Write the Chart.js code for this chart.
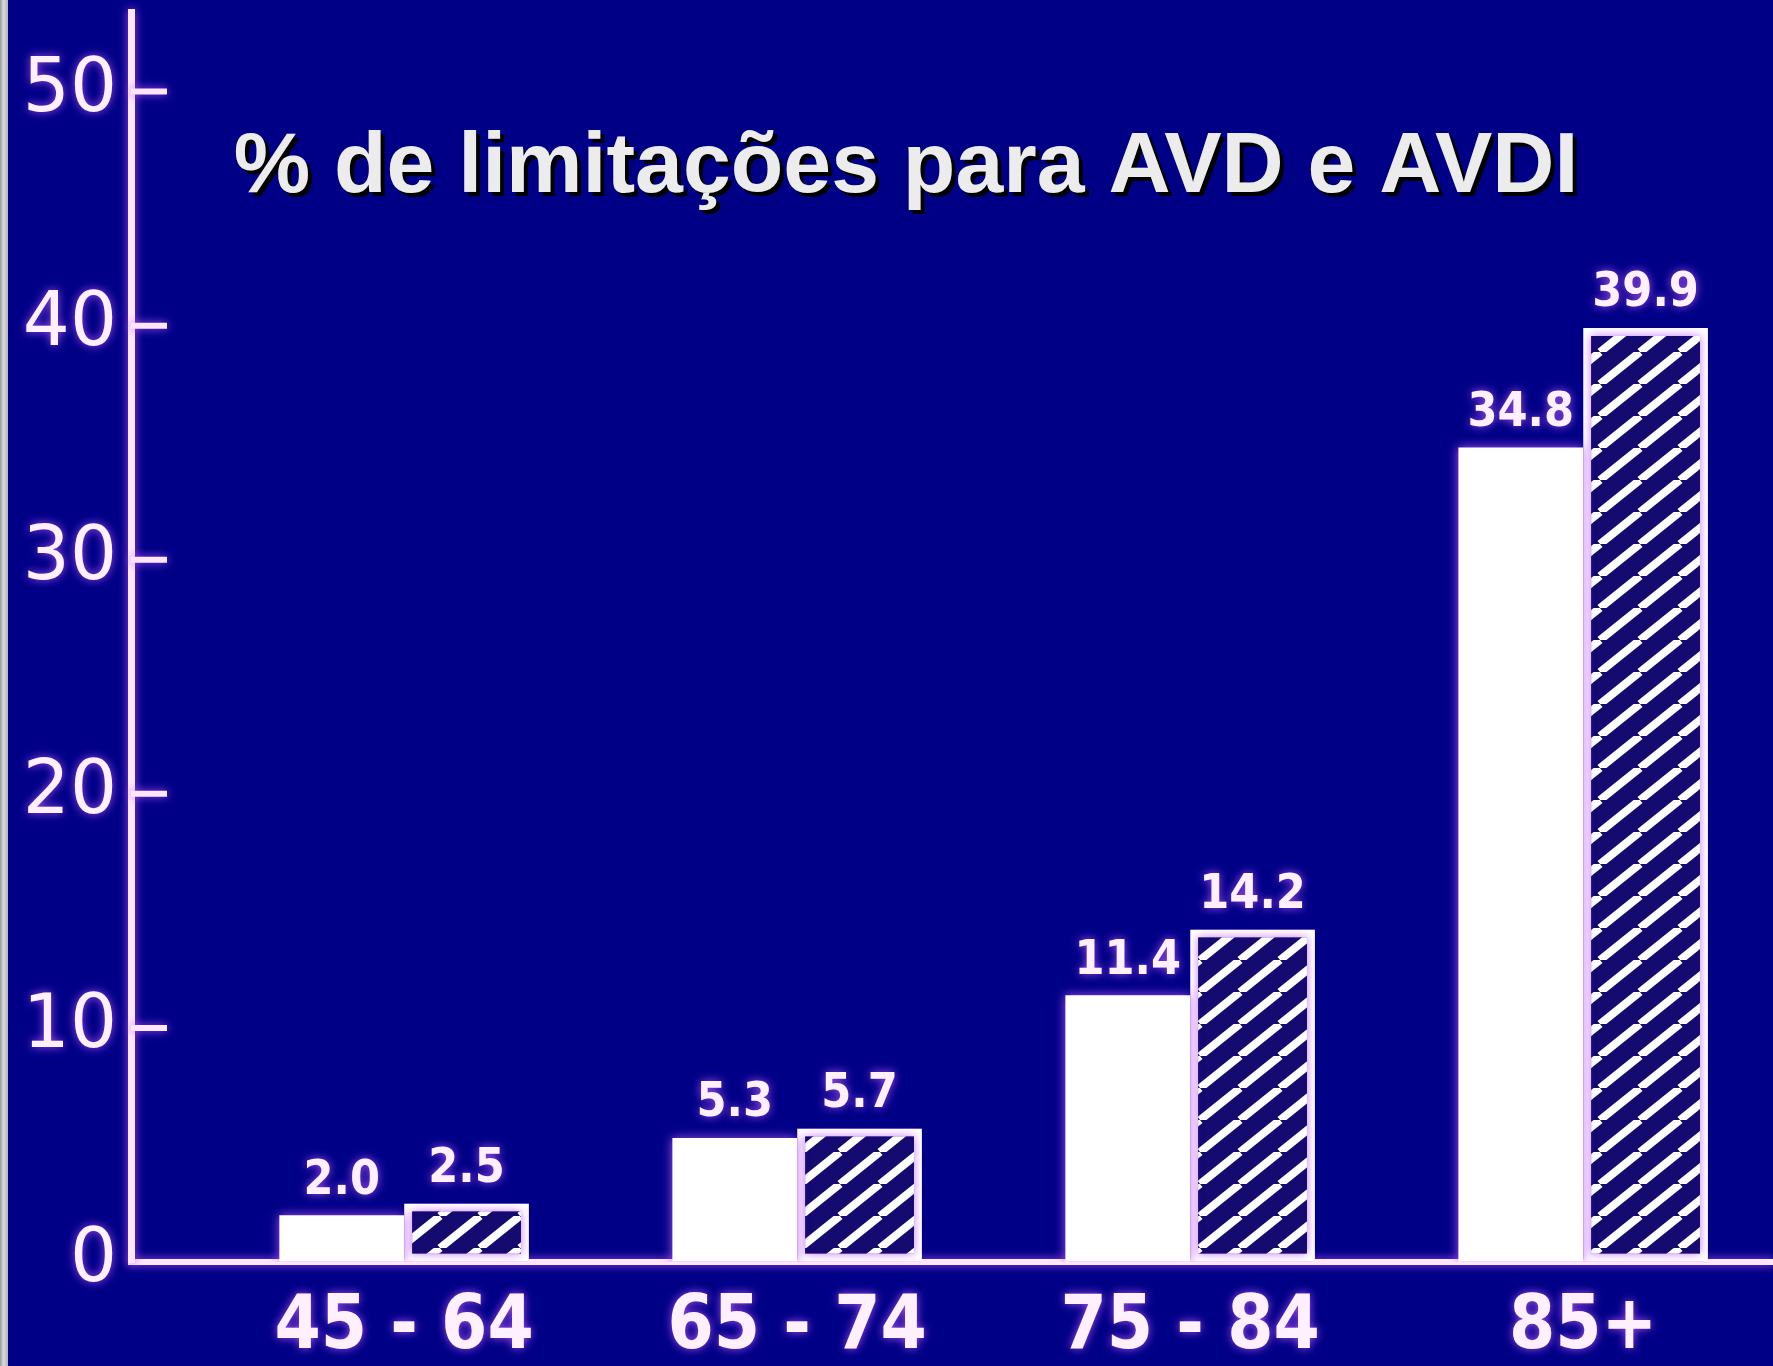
<!DOCTYPE html>
<html>
<head>
<meta charset="utf-8">
<title>Limitações AVD / AVDI</title>
<script src="https://cdn.jsdelivr.net/npm/chart.js@4.4.1/dist/chart.umd.min.js"></script>
<style>
  html, body { margin: 0; padding: 0; background: #000086; overflow: hidden; }
  #wrap { position: relative; width: 1773px; height: 1366px; }
  #edge {
    position: absolute; left: 0; top: 0; width: 8px; height: 100%;
    background: linear-gradient(to right, #9a9a9a, #dcdcdc 45%, #b4b4b4);
  }
</style>
</head>
<body>
<div id="wrap">
  <canvas id="avdChart" width="1773" height="1366"></canvas>
  <div id="edge"></div>
</div>
<script>
// faixas etárias e % de limitações (AVD = barra branca, AVDI = barra hachurada)
const ageGroups = ['45 - 64', '65 - 74', '75 - 84', '85+'];
const avdValues = [2.0, 5.3, 11.4, 34.8];
const avdiValues = [2.5, 5.7, 14.2, 39.9];
const yTicks = [0, 10, 20, 30, 40, 50];
const titleText = '% de limitações para AVD e AVDI';

const ink = '#fff0ff';
const axisInk = '#ffe6ff';

function glow(ctx) {
  ctx.shadowColor = 'rgba(190, 90, 255, 0.85)';
  ctx.shadowBlur = 10;
  ctx.shadowOffsetX = 0;
  ctx.shadowOffsetY = 0;
}

// diagonal white stripes on dark blue
function makeHatch() {
  const w = 40, h = 32;
  const c = document.createElement('canvas');
  c.width = w; c.height = h;
  const g = c.getContext('2d');
  g.fillStyle = '#140a70';
  g.fillRect(0, 0, w, h);
  g.strokeStyle = '#ffffff';
  g.lineWidth = 8;
  for (let k = -1; k <= 1; k++) {
    g.beginPath();
    g.moveTo(k * w, h);
    g.lineTo(k * w + w, 0);
    g.stroke();
  }
  return g.createPattern(c, 'repeat');
}

const glowAll = {
  id: 'glowAll',
  beforeDraw(chart) { glow(chart.ctx); }
};

// short tick marks pointing into the plot
const innerTicks = {
  id: 'innerTicks',
  afterDraw(chart) {
    const y = chart.scales.y;
    const ctx = chart.ctx;
    ctx.save();
    glow(ctx);
    ctx.strokeStyle = axisInk;
    ctx.lineWidth = 6;
    yTicks.forEach(v => {
      if (v === 0) return;
      const py = y.getPixelForValue(v);
      ctx.beginPath();
      ctx.moveTo(y.right, py);
      ctx.lineTo(y.right + 36, py);
      ctx.stroke();
    });
    ctx.restore();
  }
};

// value above each bar
const barValues = {
  id: 'barValues',
  afterDatasetsDraw(chart) {
    const ctx = chart.ctx;
    ctx.save();
    glow(ctx);
    ctx.fillStyle = ink;
    ctx.font = 'bold 48px "DejaVu Sans Condensed", "DejaVu Sans"';
    ctx.textAlign = 'center';
    ctx.textBaseline = 'middle';
    chart.data.datasets.forEach((ds, di) => {
      chart.getDatasetMeta(di).data.forEach((bar, i) => {
        ctx.fillText(ds.data[i].y.toFixed(1), bar.x, bar.y - 34);
      });
    });
    ctx.restore();
  }
};

const slideTitle = {
  id: 'slideTitle',
  afterDraw(chart) {
    const ctx = chart.ctx;
    ctx.save();
    ctx.font = 'bold 86px "Liberation Sans", Arial, sans-serif';
    ctx.textAlign = 'center';
    ctx.textBaseline = 'alphabetic';
    ctx.shadowColor = '#000000';
    ctx.shadowBlur = 0;
    ctx.shadowOffsetX = 4;
    ctx.shadowOffsetY = 4;
    ctx.fillStyle = '#ececec';
    ctx.fillText(titleText, 906, 192);
    ctx.restore();
  }
};

const hatch = makeHatch();

new Chart(document.getElementById('avdChart').getContext('2d'), {
  type: 'bar',
  data: {
    datasets: [
      {
        label: 'AVD',
        data: avdValues.map((v, i) => ({x: i, y: v})),
        backgroundColor: '#ffffff',
        borderWidth: 0,
        categoryPercentage: 0.635,
        barPercentage: 1.0
      },
      {
        label: 'AVDI',
        data: avdiValues.map((v, i) => ({x: i, y: v})),
        backgroundColor: hatch,
        borderColor: '#ffffff',
        borderWidth: 8,
        borderSkipped: false,
        categoryPercentage: 0.635,
        barPercentage: 1.0
      }
    ]
  },
  options: {
    responsive: false,
    animation: false,
    devicePixelRatio: 1,
    layout: {padding: {top: 12, left: 0, right: 0, bottom: 0}},
    plugins: {
      legend: {display: false},
      tooltip: {enabled: false},
      title: {display: false}
    },
    scales: {
      x: {
        type: 'linear',
        min: -0.695,
        max: 3.483,
        offset: false,
        afterBuildTicks: s => { s.ticks = ageGroups.map((_, i) => ({value: i})); },
        afterFit: s => { s.height = 104; s.paddingLeft = 0; s.paddingRight = 0; },
        grid: {display: false, drawTicks: false},
        border: {display: true, color: axisInk, width: 6},
        ticks: {
          color: ink,
          padding: 22,
          autoSkip: false,
          maxRotation: 0,
          font: {family: '"DejaVu Sans Condensed", "DejaVu Sans"', weight: 'bold', size: 74},
          callback: v => ageGroups[v]
        }
      },
      y: {
        min: 0,
        max: 53.4,
        afterBuildTicks: s => { s.ticks = yTicks.map(v => ({value: v})); },
        afterFit: s => { s.width = 131; s.paddingTop = 0; s.paddingBottom = 0; },
        grid: {display: true, drawOnChartArea: false, drawTicks: false},
        border: {display: true, color: axisInk, width: 7},
        ticks: {
          color: ink,
          padding: 14,
          font: {family: '"DejaVu Sans"', size: 74}
        }
      }
    }
  },
  plugins: [glowAll, innerTicks, barValues, slideTitle]
});
</script>
</body>
</html>
